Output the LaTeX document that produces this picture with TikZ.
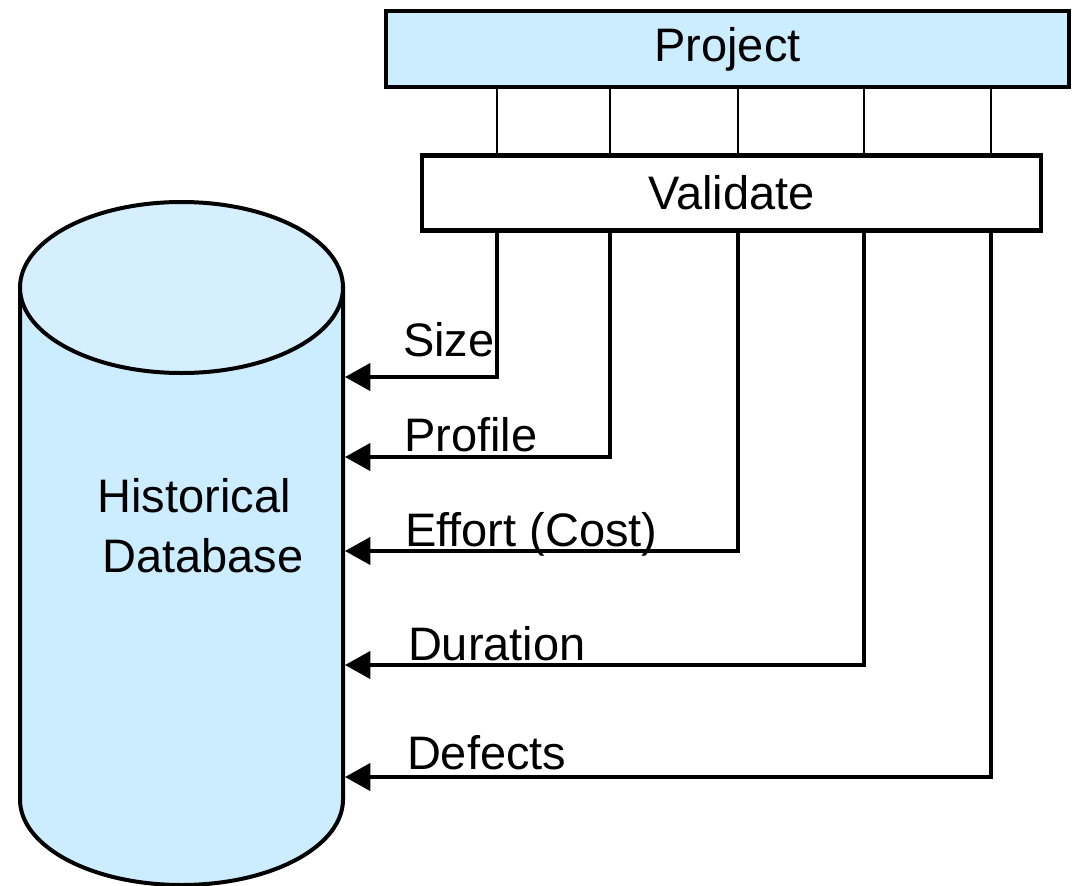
\documentclass[tikz,border=0pt]{standalone}
\usepackage{fontspec}
\setmainfont{Liberation Sans}
\usetikzlibrary{arrows.meta}
\definecolor{boxblue}{HTML}{CCECFF}
\definecolor{capblue}{HTML}{D6EFFF}
\begin{document}
\begin{tikzpicture}[x=0.75pt, y=-0.75pt,
  every node/.style={font=\fontsize{35.25}{45}\selectfont, inner sep=0pt, outer sep=0pt},
  procbox/.style={draw=black, line width=3pt, minimum height=57pt},
  tap/.style={draw=black, line width=1.6pt},
  feed/.style={draw=black, line width=2.4pt, line join=miter,
               -{Triangle[length=19pt, width=20.5pt]}},
  lbl/.style={anchor=base west}]
  \useasboundingbox (0,0) rectangle (1076,886);

  % database cylinder
  \path[draw=black, line width=3pt, fill=boxblue]
    (20,287.5) -- (20,799.5)
    arc[start angle=180, end angle=360, x radius=121.125pt, y radius=64.125pt]
    -- (343,287.5) -- cycle;
  \path[draw=black, line width=3pt, fill=capblue]
    (181.5,287.5) ellipse [x radius=121.125pt, y radius=64.125pt];
  \node[anchor=base] (db1) at (194,512) {Historical};
  \node[anchor=base] (db2) at (203,572) {Database};

  % process boxes
  \node[procbox, fill=boxblue, minimum width=512pt] (proj) at (727.5,49) {Project};
  \node[procbox, line width=3.3pt, fill=white, minimum width=464pt, minimum height=56pt] (val) at (731.5,193) {Validate};

  % data taps and where each record enters the database
  \foreach \x [count=\i] in {497,610,738,864,991}
    \coordinate (c\i) at (\x,0);
  \coordinate (e1) at (345,377);
  \coordinate (e2) at (345,457);
  \coordinate (e3) at (345,551);
  \coordinate (e4) at (345,665);
  \coordinate (e5) at (345,777);

  \foreach \i in {1,...,5}
    \draw[tap] (proj.south -| c\i) -- (val.north -| c\i);
  \foreach \i in {1,...,5}
    \draw[feed] (val.south -| c\i) |- (e\i);

  % record labels
  \node[lbl] (l1) at (403,356) {Size};
  \node[lbl] (l2) at (404,451) {Profile};
  \node[lbl] (l3) at (405,546) {Effort (Cost)};
  \node[lbl] (l4) at (408,660) {Duration};
  \node[lbl] (l5) at (407,769) {Defects};
\end{tikzpicture}
\end{document}
